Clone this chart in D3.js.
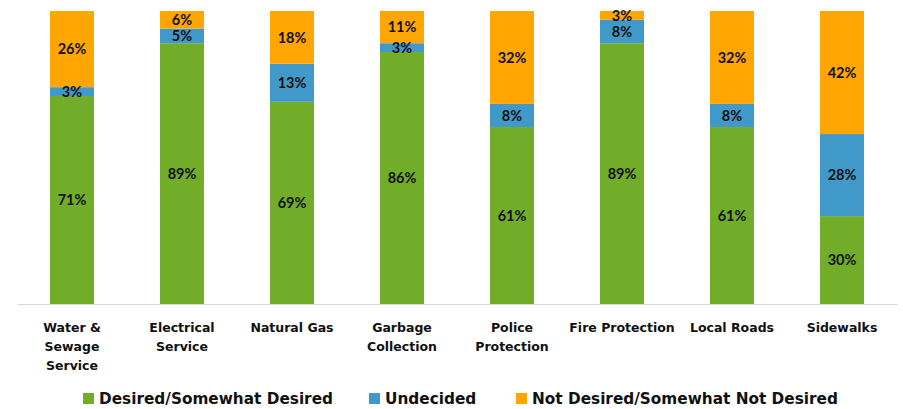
<!DOCTYPE html>
<html>
<head>
<meta charset="utf-8">
<script src="https://cdn.jsdelivr.net/npm/d3@7"></script>
<style>
  html, body { margin: 0; padding: 0; background: #fff; }
  svg { display: block; }
</style>
</head>
<body>
<svg id="chart" width="903" height="409"></svg>
<script>
// Services asked about, with response shares (%)
const categories = [
  ["Water &", "Sewage", "Service"],
  ["Electrical", "Service"],
  ["Natural Gas"],
  ["Garbage", "Collection"],
  ["Police", "Protection"],
  ["Fire Protection"],
  ["Local Roads"],
  ["Sidewalks"]
];
const desired    = [71, 89, 69, 86, 61, 89, 61, 30];
const undecided  = [3, 5, 13, 3, 8, 8, 8, 28];
const notDesired = [26, 6, 18, 11, 32, 3, 32, 42];
const seriesNames = ["Desired/Somewhat Desired", "Undecided", "Not Desired/Somewhat Not Desired"];
const seriesColors = ["#71AD29", "#4199C9", "#FFA603"];

const rows = categories.map((c, i) => ({
  key: i,
  label: c,
  s0: desired[i],
  s1: undecided[i],
  s2: notDesired[i]
}));

const svg = d3.select("#chart");
const plot = { left: 17, right: 897, top: 11, bottom: 304 };

const x = d3.scaleBand()
  .domain(rows.map(r => r.key))
  .range([plot.left, plot.right])
  .paddingInner(0.6)
  .paddingOuter(0.3);

const y = d3.scaleLinear().domain([0, 1]).range([plot.bottom, plot.top]);

// 100% stacked layout
const stack = d3.stack()
  .keys(["s0", "s1", "s2"])
  .offset(d3.stackOffsetExpand);
const layers = stack(rows);

const g = svg.append("g");
layers.forEach((layer, li) => {
  const lg = g.append("g").attr("fill", seriesColors[li]);
  lg.selectAll("rect")
    .data(layer)
    .join("rect")
    .attr("x", d => x(d.data.key))
    .attr("width", x.bandwidth())
    .attr("y", d => y(d[1]))
    .attr("height", d => y(d[0]) - y(d[1]));
});

// Value labels, centred in each segment
layers.forEach((layer, li) => {
  svg.append("g")
    .selectAll("text")
    .data(layer)
    .join("text")
    .attr("x", d => x(d.data.key) + x.bandwidth() / 2)
    .attr("y", d => (y(d[0]) + y(d[1])) / 2)
    .attr("dy", "0.36em")
    .attr("text-anchor", "middle")
    .attr("font-family", "Lato, 'Open Sans', sans-serif")
    .attr("font-weight", "bold")
    .attr("font-size", "14.5px")
    .attr("fill", "#111")
    .text(d => d.data["s" + li] + "%");
});

// Category axis
const axis = d3.axisBottom(x).tickSize(0).tickFormat("");
const axG = svg.append("g")
  .attr("transform", `translate(0,${plot.bottom})`)
  .call(axis);
axG.select(".domain").attr("stroke", "#d9d9d9").attr("stroke-width", 1);

const labelG = svg.append("g");
rows.forEach(r => {
  const cx = x(r.key) + x.bandwidth() / 2;
  const t = labelG.append("text")
    .attr("x", cx)
    .attr("y", 332)
    .attr("text-anchor", "middle")
    .attr("font-family", "'DejaVu Sans', sans-serif")
    .attr("font-weight", "bold")
    .attr("font-size", "12.5px")
    .attr("fill", "#111");
  r.label.forEach((line, i) => {
    t.append("tspan")
      .attr("x", cx)
      .attr("dy", i === 0 ? 0 : 19)
      .text(line);
  });
});

// Legend
const legendX = [83, 369, 516];
const leg = svg.append("g");
seriesNames.forEach((name, i) => {
  leg.append("rect")
    .attr("x", legendX[i])
    .attr("y", 393)
    .attr("width", 11)
    .attr("height", 11)
    .attr("fill", seriesColors[i]);
  leg.append("text")
    .attr("x", legendX[i] + 16)
    .attr("y", 404)
    .attr("font-family", "'DejaVu Sans', sans-serif")
    .attr("font-weight", "bold")
    .attr("font-size", "15.3px")
    .attr("fill", "#111")
    .text(name);
});
</script>
</body>
</html>
